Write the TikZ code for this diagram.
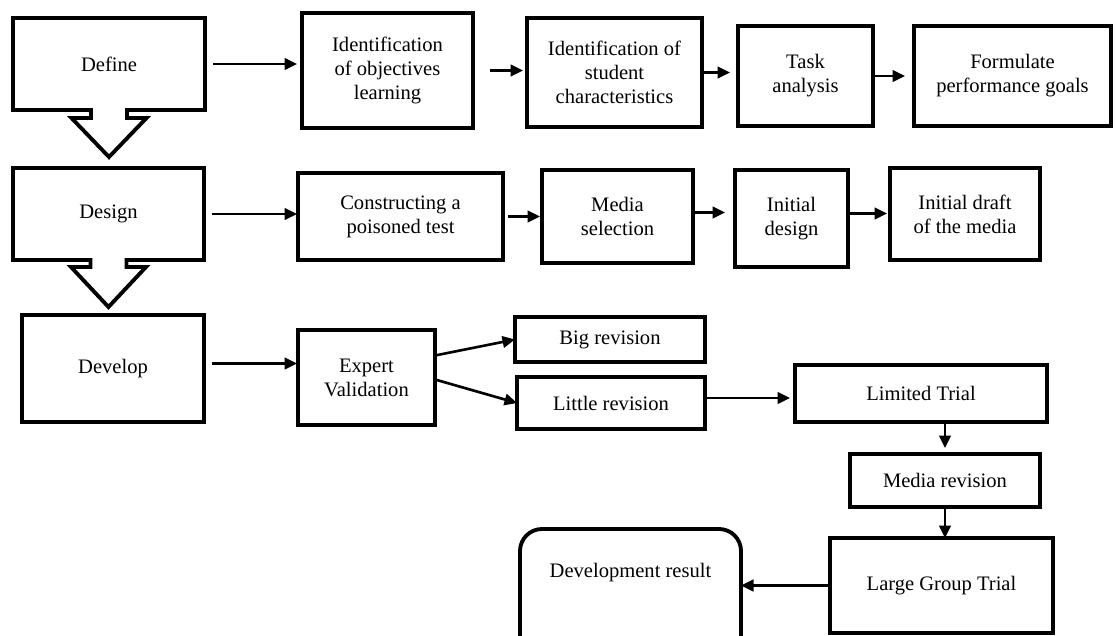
\documentclass[tikz,border=0pt]{standalone}
\usepackage{fontspec}
\setmainfont{Liberation Serif}
\usetikzlibrary{positioning,calc,arrows.meta}

\begin{document}
\begin{tikzpicture}[x=0.2mm, y=-0.2mm, font=\fontsize{11.7}{13.6}\selectfont,
          box/.style={draw, line width=2.2pt, align=center, inner sep=2pt, outer sep=0pt},
          phase/.style={box, minimum width=38.4mm, minimum height=18.4mm},
          blk/.style={line width=2.2pt, fill=white, line join=miter},
          arr/.style={-{Triangle[length=2.5mm,width=2.3mm]}, line width=1.5pt}]
        \useasboundingbox (0,0) rectangle (1117,636);
        \clip (0,0) rectangle (1117,636);
        % phases
        \node[phase] (define) at (109,64) {Define};
        \node[phase, minimum width=38.2mm] (design) at (108.5,214) {Design};
        \node[phase, minimum width=36.4mm, minimum height=21.4mm] (develop) at (113,368.5) {Develop};
        \draw[blk] ($(define.south)+(-18,-2)$) -- ++(0,10) -- ++(-19.5,0) -- ($(define.south)+(0,47)$)
          -- ($(define.south)+(37.5,8)$) -- ++(-19.5,0) -- ++(0,-10);
        \draw[blk] ($(design.south)+(-18,-2)$) -- ++(0,9) -- ++(-19.5,0) -- ($(design.south)+(0,47)$)
          -- ($(design.south)+(37.5,7)$) -- ++(-19.5,0) -- ++(0,-9);
        % define row
        \node[box, minimum width=34.2mm, minimum height=23mm] (obj) at (387.5,70.5)
          {Identification\\of objectives\\learning};
        \node[box, minimum width=35mm, minimum height=21.8mm] (stud) at (614.5,72.5)
          {Identification of\\student\\characteristics};
        \node[box, minimum width=27mm, minimum height=20mm] (task) at (805.5,76) {Task\\analysis};
        \node[box, minimum width=39.4mm, minimum height=20mm] (goals) at (1012.5,76)
          {Formulate\\performance goals};
        \draw[arr, shorten <=1.6mm, shorten >=1mm] (define.east) -- (define.east -| obj.west);
        \draw[arr, shorten <=3.4mm, shorten >=0.8mm] (obj.east) -- (obj.east -| stud.west);
        \draw[arr, shorten >=1.6mm] (stud.east) -- (stud.east -| task.west);
        \draw[arr, shorten >=1.8mm] (task.east) -- (task.east -| goals.west);
        % design row
        \node[box, minimum width=41mm, minimum height=17.4mm] (poison) at (400.5,216.5)
          {Constructing a\\poisoned test};
        \node[box, minimum width=30.2mm, minimum height=18.6mm] (media) at (617.5,216.5) {Media\\selection};
        \node[box, minimum width=22.6mm, minimum height=19.4mm] (initd) at (791.5,218.5) {Initial\\design};
        \node[box, minimum width=30mm, minimum height=18.4mm] (draft) at (965,214)
          {Initial draft\\of the media};
        \draw[arr, shorten <=1.6mm, shorten >=0.2mm] (design.east) -- (design.east -| poison.west);
        \draw[arr, shorten <=1mm, shorten >=0.4mm] (poison.east) -- (poison.east -| media.west);
        \draw[arr, shorten >=2mm] ($(media.east)+(0,-4)$) -- ($(media.east -| initd.west)+(0,-4)$);
        \draw[arr, shorten >=0.6mm] ($(initd.east)+(0,-5)$) -- ($(initd.east -| draft.west)+(0,-5)$);
        % develop row
        \node[box, minimum width=27.4mm, minimum height=19mm] (expert) at (366.5,377.5) {Expert\\Validation};
        \node[box, minimum width=38mm, minimum height=9mm] (big) at (610,339.5) {Big revision};
        \node[box, minimum width=37.6mm, minimum height=10.4mm] (little) at (611,403) {Little revision};
        \node[box, minimum width=50.4mm, minimum height=11.4mm] (limited) at (921,393.5) {Limited Trial};
        \node[box, minimum width=38mm, minimum height=10.6mm] (mediarev) at (945,480.5) {Media revision};
        \node[box, minimum width=44.6mm, minimum height=19mm] (large) at (941.5,585.5) {Large Group Trial};
        \node[box, rounded corners=4.4mm, minimum width=44.2mm, minimum height=26.2mm] (result) at (630.5,594.5)
          {Development result\\[5mm]\mbox{}};
        \draw[arr, shorten <=1.6mm, shorten >=0.2mm] ($(develop.east)+(0,-5)$) -- ($(develop.east -| expert.west)+(0,-5)$);
        \draw[arr] ($(expert.east)+(0,-22)$) -- (big.west);
        \draw[arr] ($(expert.east)+(0,2)$) -- (little.west);
        \draw[arr, shorten >=1mm] ($(little.east)+(0,-5)$) -- ($(little.east -| limited.west)+(0,-5)$);
        \draw[arr, shorten >=1.2mm] (mediarev.north |- limited.south) -- (mediarev.north);
        \draw[arr] (mediarev.south) -- (mediarev.south |- large.north);
        \draw[arr] (large.west) -- (large.west -| result.east);
      \end{tikzpicture}
\end{document}
